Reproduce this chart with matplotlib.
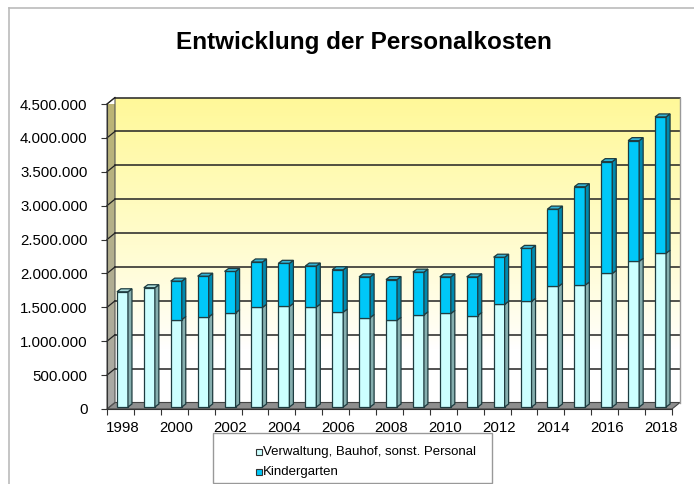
import matplotlib
matplotlib.use("Agg")
import numpy as np
import matplotlib.pyplot as plt
from matplotlib.patches import Polygon, Rectangle
from matplotlib.lines import Line2D

plt.rcParams['font.family'] = ['Liberation Sans', 'DejaVu Sans']

# --- Daten ---
jahre = list(range(1998, 2019))
verwaltung = [1700000, 1760000, 1290000, 1330000, 1390000, 1470000, 1485000,
              1475000, 1400000, 1320000, 1280000, 1360000, 1380000, 1350000,
              1515000, 1560000, 1780000, 1800000, 1970000, 2150000, 2270000]
gesamt = [1700000, 1760000, 1857000, 1930000, 2000000, 2140000, 2120000,
          2080000, 2025000, 1920000, 1880000, 1990000, 1920000, 1920000,
          2210000, 2340000, 2920000, 3250000, 3620000, 3930000, 4280000]
kindergarten = [g - v for g, v in zip(gesamt, verwaltung)]

y_ticks = [0, 500000, 1000000, 1500000, 2000000, 2500000, 3000000,
           3500000, 4000000, 4500000]
y_labels = ["0", "500.000", "1.000.000", "1.500.000", "2.000.000",
            "2.500.000", "3.000.000", "3.500.000", "4.000.000", "4.500.000"]
x_labels = [str(j) if j % 2 == 0 else "" for j in jahre]
serien = ["Verwaltung, Bauhof, sonst. Personal", "Kindergarten"]

# Farben
hell_front, hell_seite, hell_oben = "#CCFFFF", "#86AFAF", "#A9DCDC"
dunkel_front, dunkel_seite, dunkel_oben = "#00C8F8", "#0089AE", "#33B4D8"
kante = "#1E3C40"

W, H = 694, 484
fig = plt.figure(figsize=(W / 100, H / 100), dpi=100)

# Achse = vordere Ebene des 3D-Diagramms (Pixel: x 107..672, y 104..409)
x0, x1, ytop, ybot = 107, 672, 104, 409
ax = fig.add_axes([x0 / W, 1 - ybot / H, (x1 - x0) / W, (ybot - ytop) / H])
n = len(jahre)
ax.patch.set_visible(False)

px_x = n / (x1 - x0)          # Datenbreite pro Pixel
px_y = 4500000 / (ybot - ytop)

# Versatz der Rückwand (Tiefe)
bdx, bdy = 8 * px_x, 6.5 * px_y
xl, xr = -0.5, n - 0.5
ymax = 4500000

# Rückwand mit Farbverlauf
grad = np.linspace(0, 1, 256)
grad = np.clip((grad - 0.18) / 0.82, 0, 1) ** 0.85
farbe_unten = np.array([1.0, 1.0, 1.0])
farbe_oben = np.array([1.0, 0.975, 0.6])
img = farbe_unten[None, :] + grad[:, None] * (farbe_oben - farbe_unten)[None, :]
img = img[:, None, :]
ax.imshow(img, origin="lower", aspect="auto",
          extent=(xl + bdx, xr + bdx, bdy, ymax + bdy), zorder=0, clip_on=False)

# Seitenwand links (Verlauf grau -> oliv)
seite = Polygon([(xl, 0), (xl, ymax), (xl + bdx, ymax + bdy), (xl + bdx, bdy)],
                closed=True, facecolor="none", edgecolor="#555555", lw=0.8,
                zorder=1.1, clip_on=False)
ax.add_patch(seite)
g2 = np.linspace(0, 1, 256)
c_u, c_o = np.array([0.66, 0.66, 0.66]), np.array([0.74, 0.71, 0.45])
img2 = (c_u[None, :] + g2[:, None] * (c_o - c_u)[None, :])[:, None, :]
im2 = ax.imshow(img2, origin="lower", aspect="auto",
                extent=(xl, xl + bdx, 0, ymax + bdy), zorder=1, clip_on=True)
im2.set_clip_path(seite)

# Boden
boden = Polygon([(xl, 0), (xr, 0), (xr + bdx, bdy), (xl + bdx, bdy)],
                closed=True, facecolor="#8E8E8E", edgecolor="#444444", lw=0.8,
                zorder=1, clip_on=False)
ax.add_patch(boden)
ax.set_xlim(-0.5, n - 0.5)
ax.set_ylim(0, 4500000)

# Gitterlinien auf Rückwand und Seitenwand
for t in y_ticks[1:]:
    ax.plot([xl + bdx, xr + bdx], [t + bdy, t + bdy], color="#222222", lw=1.1,
            zorder=2, clip_on=False)
    ax.plot([xl, xl + bdx], [t, t + bdy], color="#222222", lw=0.9,
            zorder=2, clip_on=False)
ax.plot([xr + bdx, xr + bdx], [bdy, ymax + bdy], color="#999999", lw=1,
        zorder=2, clip_on=False)

# Säulen (vordere Fläche leicht nach hinten versetzt)
bw = 0.41
offx, offy = 2 * px_x, 2 * px_y
tdx, tdy = 4 * px_x, 3 * px_y
xs = np.arange(n) + offx


def saeule(x, unten, oben, front, seitenf, z):
    l, r = x - bw / 2, x + bw / 2
    ax.add_patch(Rectangle((l, unten + offy), bw, oben - unten, facecolor=front,
                           edgecolor=kante, lw=0.9, zorder=z, clip_on=False))
    ax.add_patch(Polygon([(r, unten + offy), (r, oben + offy),
                          (r + tdx, oben + offy + tdy), (r + tdx, unten + offy + tdy)],
                         closed=True, facecolor=seitenf, edgecolor=kante, lw=0.9,
                         zorder=z, clip_on=False))


for i in range(n):
    saeule(xs[i], 0, verwaltung[i], hell_front, hell_seite, 3 + i * 0.01)
    if kindergarten[i] > 0:
        saeule(xs[i], verwaltung[i], gesamt[i], dunkel_front, dunkel_seite, 3 + i * 0.01)
        oben_farbe = dunkel_oben
    else:
        oben_farbe = hell_oben
    l, r = xs[i] - bw / 2, xs[i] + bw / 2
    top = gesamt[i] + offy
    ax.add_patch(Polygon([(l, top), (r, top), (r + tdx, top + tdy), (l + tdx, top + tdy)],
                         closed=True, facecolor=oben_farbe, edgecolor=kante, lw=0.9,
                         zorder=3.5, clip_on=False))

# Achsen
for s in ["top", "right"]:
    ax.spines[s].set_visible(False)
ax.spines["left"].set_color("#333333")
ax.spines["bottom"].set_color("#333333")
ax.spines["left"].set_zorder(4)
ax.spines["bottom"].set_zorder(4)
ax.set_yticks(y_ticks)
ax.set_yticklabels(y_labels, fontsize=10.8)
ax.tick_params(axis="y", length=4, width=0.8, color="#333333", pad=10)
ax.set_xticks(xs)
ax.set_xticklabels(x_labels, fontsize=10.8)
ax.set_xticks(np.arange(n + 1) - 0.5, minor=True)
ax.tick_params(axis="x", which="major", length=0, pad=9)
ax.tick_params(axis="x", which="minor", length=4, width=0.8, color="#333333")

# Titel
fig.text(364 / W, 1 - 42 / H, "Entwicklung der Personalkosten", ha="center",
         va="center", fontsize=17.5, fontweight="bold")

# Rahmen des Diagramms
fig.add_artist(Line2D([9 / W, 9 / W], [0, 1 - 8 / H], color="#BBBBBB", lw=1.2))
fig.add_artist(Line2D([9 / W, 1], [1 - 8 / H, 1 - 8 / H], color="#BBBBBB", lw=1.2))

# Legende
fig.add_artist(Rectangle((213 / W, 1 - 483 / H), (492 - 213) / W, (483 - 433) / H,
                         transform=fig.transFigure, facecolor="white",
                         edgecolor="#999999", lw=1))
for k, (name, fc) in enumerate(zip(serien, [hell_front, dunkel_front])):
    yc = 452 + 20 * k
    fig.add_artist(Rectangle((256 / W, 1 - (yc + 3) / H), 6 / W, 6 / H,
                             transform=fig.transFigure, facecolor=fc,
                             edgecolor="#333333", lw=0.8))
    fig.text(263 / W, 1 - yc / H, name, ha="left", va="center", fontsize=9.5)

fig.savefig("out.png", dpi=100)
